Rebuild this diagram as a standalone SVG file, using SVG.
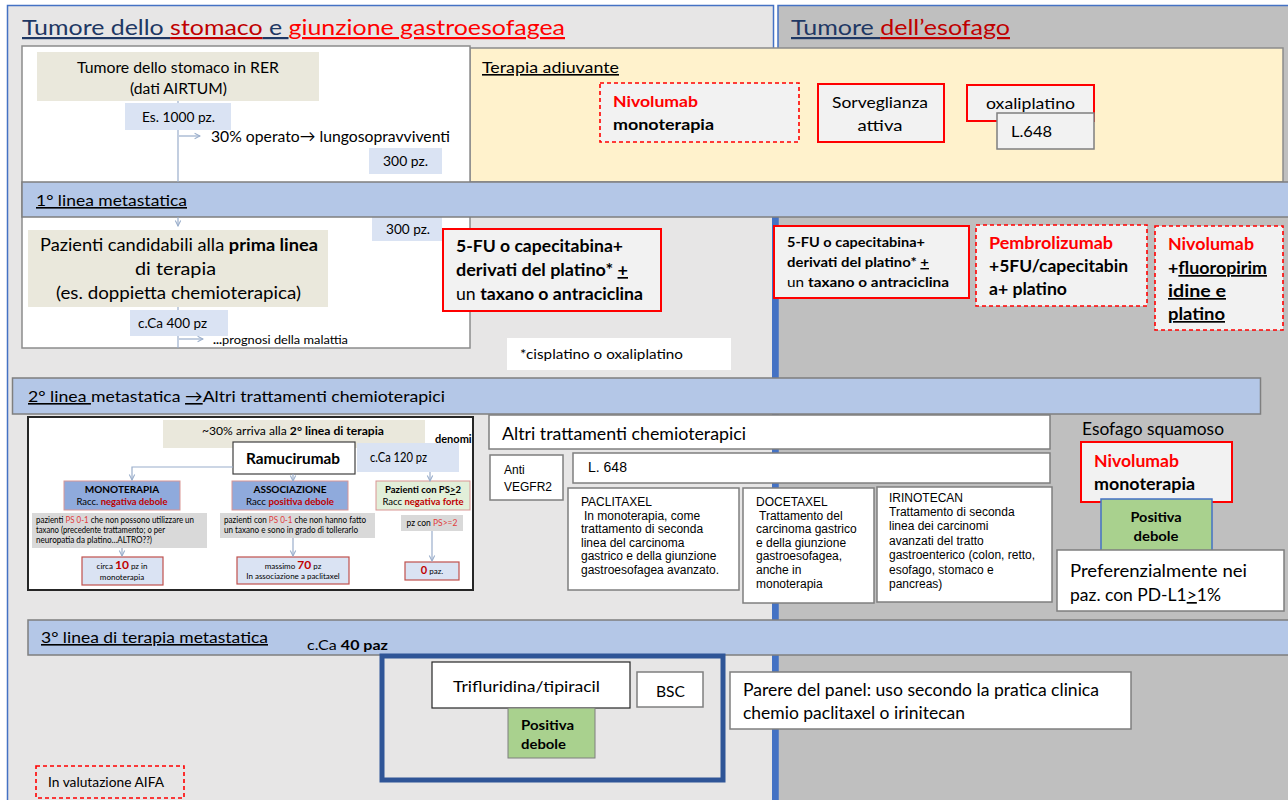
<svg xmlns="http://www.w3.org/2000/svg" width="1288" height="800" viewBox="0 0 1288 800">
<defs>
<style>
text{font-family:Lato,"Liberation Sans",Arial,sans-serif;fill:#000}
.ar{font-family:"Liberation Sans",Arial,sans-serif}
.b{font-weight:bold}
.rd{fill:#ff0000}
.dr{fill:#c00000}
.nv{fill:#1f3864}
.u{text-decoration:underline}
.bgl{fill:#e7e6e6;stroke:#4472c4;stroke-width:1.5}
.bgr{fill:#bfbfbf;stroke:#4472c4;stroke-width:1.5}
.band{fill:#b4c7e7;stroke:#7f7f7f;stroke-width:1.5}
.gbox{fill:#f2f2f2}
.solid{stroke:#ff0000;stroke-width:2}
.dash{stroke:#ff0000;stroke-width:1.6;stroke-dasharray:4 3}
.wbox{fill:#fff;stroke:#7f7f7f;stroke-width:1.5}
.grey{fill:#f2f2f2;stroke:#7f7f7f;stroke-width:1.5}
.beige{fill:#eae8dc}
.pale{fill:#dae3f3}
.green{fill:#a9d18e;stroke:#7f7f7f;stroke-width:1}
.ln{stroke:#9aaecb;stroke-width:1.2;fill:none}
.mono{fill:#8faadc;stroke:#d99594;stroke-width:1}
.lgreen{fill:#e2efd9;stroke:#d99594;stroke-width:1}
.gr{fill:#d9d9d9}
.rbox{fill:#dae3f3;stroke:#c0504d;stroke-width:1.2}
</style>
<marker id="ah" viewBox="0 0 8 8" refX="7" refY="4" markerWidth="6" markerHeight="6" orient="auto">
<path d="M1,1 L7,4 L1,7" fill="none" stroke="#9aaecb" stroke-width="1.2"/>
</marker>
<clipPath id="clip2"><rect x="28" y="417" width="445" height="173"/></clipPath>
</defs>

<!-- page background panels -->
<rect width="1288" height="800" fill="#fff"/>
<g id="panel-stomaco"><rect class="bgl" x="7.5" y="5.5" width="766" height="800"/></g>
<g id="panel-esofago"><rect class="bgr" x="778" y="5.5" width="515" height="800"/></g>
<rect x="772" y="217" width="6" height="583" fill="#4472c4"/>

<!-- headings -->
<g id="titolo-stomaco">
<text x="22" y="35" font-size="22" textLength="543" lengthAdjust="spacingAndGlyphs"><tspan class="nv u">Tumore dello </tspan><tspan class="dr u">stomaco</tspan><tspan class="nv u"> e </tspan><tspan class="rd u">giunzione gastroesofagea</tspan></text>
</g>
<g id="titolo-esofago">
<text x="791" y="35" font-size="22" textLength="219" lengthAdjust="spacingAndGlyphs"><tspan class="nv u">Tumore </tspan><tspan class="dr u">dell’esofago</tspan></text>
</g>

<!-- adjuvant therapy panel -->
<g id="terapia-adiuvante">
<rect x="470" y="48" width="813" height="134" fill="#fff2cc" stroke="#8c8c8c" stroke-width="1.5"/>
<text x="482" y="73" font-size="16" class="u" textLength="137" lengthAdjust="spacingAndGlyphs">Terapia adiuvante</text>
</g>
<g id="adj-nivolumab">
<rect class="gbox dash" x="600" y="83" width="199" height="59"/>
<text x="613" y="107" font-size="16" class="b rd" textLength="85" lengthAdjust="spacingAndGlyphs">Nivolumab</text>
<text x="613" y="130" font-size="16" class="b" textLength="101" lengthAdjust="spacingAndGlyphs">monoterapia</text>
</g>
<g id="adj-sorveglianza">
<rect class="gbox solid" x="818" y="84" width="126" height="58"/>
<text x="880" y="108" font-size="16" text-anchor="middle" textLength="96" lengthAdjust="spacingAndGlyphs">Sorveglianza</text>
<text x="880" y="131" font-size="16" text-anchor="middle" textLength="45" lengthAdjust="spacingAndGlyphs">attiva</text>
</g>
<g id="adj-oxaliplatino">
<rect class="gbox solid" x="967" y="85" width="127" height="36"/>
<text x="986" y="109" font-size="16" textLength="89" lengthAdjust="spacingAndGlyphs">oxaliplatino</text>
</g>
<g id="adj-l648">
<rect class="grey" x="997" y="113" width="97" height="36"/>
<text x="1011" y="137" font-size="16" textLength="41" lengthAdjust="spacingAndGlyphs">L.648</text>
</g>

<!-- regional flow (first inset) -->
<g id="flusso-rer">
<rect x="22" y="46" width="448" height="302" fill="#fff" stroke="#8c8c8c" stroke-width="1.5"/>
<rect class="beige" x="37" y="52" width="282" height="49"/>
<text x="77" y="73" font-size="15.5" textLength="202" lengthAdjust="spacingAndGlyphs" fill="#262626">Tumore dello stomaco in RER</text>
<text x="130" y="94" font-size="15.5" textLength="97" lengthAdjust="spacingAndGlyphs" fill="#262626">(dati AIRTUM)</text>
<rect class="pale" x="125" y="103" width="106" height="27"/>
<text x="142" y="122" font-size="14" textLength="73" lengthAdjust="spacingAndGlyphs" fill="#262626">Es. 1000 pz.</text>
<text x="211" y="142" font-size="16" textLength="239" lengthAdjust="spacingAndGlyphs" fill="#262626">30% operato→ lungosopravviventi</text>
<rect class="pale" x="369" y="148" width="73" height="26"/>
<text x="383" y="166" font-size="14" textLength="45" lengthAdjust="spacingAndGlyphs" fill="#262626">300 pz.</text>
<rect class="pale" x="372" y="217" width="70" height="24"/>
<text x="386" y="234" font-size="14" textLength="44" lengthAdjust="spacingAndGlyphs" fill="#262626">300 pz.</text>
<rect class="beige" x="28" y="230" width="300" height="77"/>
<text x="40" y="251" font-size="17" textLength="278" lengthAdjust="spacingAndGlyphs" fill="#262626">Pazienti candidabili alla <tspan class="b">prima linea</tspan></text>
<text x="135" y="275" font-size="17" textLength="81" lengthAdjust="spacingAndGlyphs" fill="#262626">di terapia</text>
<text x="56" y="299" font-size="17" textLength="245" lengthAdjust="spacingAndGlyphs" fill="#262626">(es. doppietta chemioterapica)</text>
<rect class="pale" x="130" y="310" width="98" height="26"/>
<text x="138" y="328" font-size="14" textLength="69" lengthAdjust="spacingAndGlyphs" fill="#262626">c.Ca 400 pz</text>
<text x="213" y="344" font-size="11" textLength="135" lengthAdjust="spacingAndGlyphs" fill="#262626"><tspan class="b">...</tspan>prognosi della malattia</text>
</g>

<!-- line bands -->
<g id="banda-1">
<rect class="band" x="22" y="182" width="1270" height="35"/>
<text x="36" y="206" font-size="16" class="u" textLength="151" lengthAdjust="spacingAndGlyphs">1° linea metastatica</text>
</g>

<!-- first line: stomach -->
<g id="prima-linea-stomaco">
<rect class="gbox solid" x="443" y="229" width="218" height="82"/>
<text x="456" y="252" font-size="17" class="b" textLength="167" lengthAdjust="spacingAndGlyphs">5-FU o capecitabina+</text>
<text x="456" y="276" font-size="17" class="b" textLength="172" lengthAdjust="spacingAndGlyphs">derivati del platino* <tspan class="u">+</tspan></text>
<text x="456" y="300" font-size="17" textLength="187" lengthAdjust="spacingAndGlyphs">un <tspan class="b">taxano o antraciclina</tspan></text>
</g>
<g id="nota-platino">
<rect x="507" y="338" width="224" height="32" fill="#fff"/>
<text x="520" y="359" font-size="13" textLength="163" lengthAdjust="spacingAndGlyphs">*cisplatino o oxaliplatino</text>
</g>

<!-- first line: oesophagus -->
<g id="prima-linea-esofago">
<rect class="gbox solid" x="774" y="226" width="195" height="72"/>
<text x="787" y="247" font-size="14" class="b" textLength="138" lengthAdjust="spacingAndGlyphs">5-FU o capecitabina+</text>
<text x="787" y="267" font-size="14" class="b" textLength="142" lengthAdjust="spacingAndGlyphs">derivati del platino* <tspan class="u">+</tspan></text>
<text x="787" y="287" font-size="14" textLength="162" lengthAdjust="spacingAndGlyphs">un <tspan class="b">taxano o antraciclina</tspan></text>
</g>
<g id="pembrolizumab">
<rect class="gbox dash" x="976" y="225" width="171" height="81"/>
<text x="989" y="249" font-size="17" class="b rd" textLength="124" lengthAdjust="spacingAndGlyphs">Pembrolizumab</text>
<text x="989" y="272" font-size="17" class="b" textLength="139" lengthAdjust="spacingAndGlyphs">+5FU/capecitabin</text>
<text x="989" y="295" font-size="17" class="b" textLength="78" lengthAdjust="spacingAndGlyphs">a+ platino</text>
</g>
<g id="nivolumab-fluoro">
<rect class="gbox dash" x="1155" y="226" width="128" height="104"/>
<text x="1168" y="250" font-size="17" class="b rd" textLength="86" lengthAdjust="spacingAndGlyphs">Nivolumab</text>
<text x="1168" y="274" font-size="17" class="b" textLength="99" lengthAdjust="spacingAndGlyphs">+<tspan class="u">fluoropirim</tspan></text>
<text x="1168" y="297" font-size="17" class="b u" textLength="58" lengthAdjust="spacingAndGlyphs">idine e</text>
<text x="1168" y="320" font-size="17" class="b u" textLength="57" lengthAdjust="spacingAndGlyphs">platino</text>
</g>

<g id="banda-2">
<rect class="band" x="12.5" y="378" width="1248" height="36"/>
<text x="28" y="402" font-size="16" textLength="417" lengthAdjust="spacingAndGlyphs"><tspan class="u">2° linea </tspan>metastatica <tspan class="u">→</tspan>Altri trattamenti chemioterapici</text>
</g>

<!-- second line ramucirumab flow (inset) -->
<g id="flusso-ramucirumab">
<rect x="28" y="417" width="445" height="173" fill="#fff" stroke="#262626" stroke-width="2"/>
<g clip-path="url(#clip2)">
<rect class="beige" x="163" y="420" width="262" height="28"/>
<text x="202" y="435" font-size="11.5" textLength="182" lengthAdjust="spacingAndGlyphs" fill="#262626">~30% arriva alla <tspan class="b">2° linea di terapia</tspan></text>
<text x="435" y="443" font-size="11" class="b" fill="#c00000">denomi</text>
<rect x="233" y="442" width="122" height="32" fill="#fff" stroke="#404040" stroke-width="1.2"/>
<text x="246" y="464" font-size="16" class="b" textLength="94" lengthAdjust="spacingAndGlyphs" fill="#111">Ramucirumab</text>
<rect class="pale" x="357" y="443" width="102" height="29"/>
<text x="370" y="462" font-size="13.5" textLength="57" lengthAdjust="spacingAndGlyphs" fill="#262626">c.Ca 120 pz</text>

<rect class="mono" x="64" y="481" width="116" height="29"/>
<text x="122" y="493" font-size="10" class="b" text-anchor="middle" fill="#1f2d4d">MONOTERAPIA</text>
<text x="122" y="505" font-size="10" text-anchor="middle" textLength="91" lengthAdjust="spacingAndGlyphs" fill="#2f3e66">Racc. <tspan class="b" fill="#c00000">negativa debole</tspan></text>
<rect class="gr" x="32" y="513" width="175" height="35"/>
<text x="36" y="523" font-size="8.5" textLength="158" lengthAdjust="spacingAndGlyphs" fill="#404040">pazienti <tspan fill="#e03c3c">PS 0-1</tspan> che non possono utilizzare un</text>
<text x="36" y="533" font-size="8.5" textLength="129" lengthAdjust="spacingAndGlyphs" fill="#404040">taxano (precedente trattamento; o per</text>
<text x="36" y="543" font-size="8.5" textLength="116" lengthAdjust="spacingAndGlyphs" fill="#404040">neuropatia da platino...ALTRO??)</text>
<rect class="rbox" x="82" y="557" width="81" height="28"/>
<text x="122" y="569" font-size="8" text-anchor="middle" fill="#404040">circa <tspan class="b" font-size="12" fill="#c00000">10</tspan> pz in</text>
<text x="122" y="580" font-size="8" text-anchor="middle" fill="#404040">monoterapia</text>

<rect class="mono" x="232" y="481" width="116" height="29"/>
<text x="290" y="493" font-size="10" class="b" text-anchor="middle" fill="#1f2d4d">ASSOCIAZIONE</text>
<text x="290" y="505" font-size="10" text-anchor="middle" textLength="88" lengthAdjust="spacingAndGlyphs" fill="#2f3e66">Racc <tspan class="b" fill="#c00000">positiva debole</tspan></text>
<rect class="gr" x="220" y="513" width="155" height="25"/>
<text x="224" y="523" font-size="8.5" textLength="142" lengthAdjust="spacingAndGlyphs" fill="#404040">pazienti con <tspan fill="#e03c3c">PS 0-1</tspan> che non hanno fatto</text>
<text x="224" y="533" font-size="8.5" textLength="134" lengthAdjust="spacingAndGlyphs" fill="#404040">un taxano e sono in grado di tollerarlo</text>
<rect class="rbox" x="237" y="557" width="112" height="27"/>
<text x="293" y="569" font-size="8" text-anchor="middle" fill="#404040">massimo <tspan class="b" font-size="12" fill="#c00000">70</tspan> pz</text>
<text x="293" y="579" font-size="8" text-anchor="middle" fill="#404040">In associazione a paclitaxel</text>

<rect class="lgreen" x="376" y="481" width="94" height="29"/>
<text x="423" y="493" font-size="9.5" class="b" text-anchor="middle" fill="#262626">Pazienti con PS<tspan class="u">&gt;</tspan>2</text>
<text x="423" y="505" font-size="9.5" text-anchor="middle" fill="#404040">Racc <tspan class="b" fill="#c00000">negativa forte</tspan></text>
<rect class="gr" x="401" y="515" width="62" height="16"/>
<text x="432" y="526" font-size="8.5" text-anchor="middle" fill="#404040">pz con <tspan fill="#e03c3c">PS&gt;=2</tspan></text>
<rect class="rbox" x="405" y="562" width="54" height="18"/>
<text x="432" y="574" font-size="8" text-anchor="middle" fill="#404040"><tspan class="b" font-size="11" fill="#c00000">0</tspan> paz.</text>
</g>
</g>

<!-- second line chemotherapy options -->
<g id="altri-trattamenti">
<rect class="wbox" x="489" y="415" width="561" height="34"/>
<text x="502" y="440" font-size="17" textLength="244" lengthAdjust="spacingAndGlyphs" fill="#262626">Altri trattamenti chemioterapici</text>
</g>
<g id="anti-vegfr2">
<rect class="wbox" x="490" y="455" width="73" height="45"/>
<text x="504" y="474" font-size="12" class="ar">Anti</text>
<text x="504" y="491" font-size="12" class="ar">VEGFR2</text>
</g>
<g id="l648-seconda">
<rect class="wbox" x="573" y="453" width="477" height="30"/>
<text x="588" y="472" font-size="14" class="ar" fill="#262626">L. 648</text>
</g>
<g id="paclitaxel">
<rect class="wbox" x="568" y="488" width="171" height="102"/>
<text x="581" y="506" font-size="12" class="ar" fill="#262626">PACLITAXEL</text>
<text x="584" y="520" font-size="12" class="ar" fill="#262626">In monoterapia, come</text>
<text x="581" y="533" font-size="12" class="ar" fill="#262626">trattamento di seconda</text>
<text x="581" y="547" font-size="12" class="ar" fill="#262626">linea del carcinoma</text>
<text x="581" y="560" font-size="12" class="ar" fill="#262626">gastrico e della giunzione</text>
<text x="581" y="574" font-size="12" class="ar" fill="#262626">gastroesofagea avanzato.</text>
</g>
<g id="docetaxel">
<rect class="wbox" x="743" y="488" width="131" height="115"/>
<text x="756" y="506" font-size="12" class="ar" fill="#262626">DOCETAXEL</text>
<text x="759" y="520" font-size="12" class="ar" fill="#262626">Trattamento del</text>
<text x="756" y="533" font-size="12" class="ar" fill="#262626">carcinoma gastrico</text>
<text x="756" y="547" font-size="12" class="ar" fill="#262626">e della giunzione</text>
<text x="756" y="560" font-size="12" class="ar" fill="#262626">gastroesofagea,</text>
<text x="756" y="574" font-size="12" class="ar" fill="#262626">anche in</text>
<text x="756" y="588" font-size="12" class="ar" fill="#262626">monoterapia</text>
</g>
<g id="irinotecan">
<rect class="wbox" x="877" y="487" width="175" height="115"/>
<text x="889" y="502" font-size="12" class="ar" fill="#262626">IRINOTECAN</text>
<text x="889" y="516" font-size="12" class="ar" fill="#262626">Trattamento di seconda</text>
<text x="889" y="530" font-size="12" class="ar" fill="#262626">linea dei carcinomi</text>
<text x="889" y="545" font-size="12" class="ar" fill="#262626">avanzati del tratto</text>
<text x="889" y="559" font-size="12" class="ar" fill="#262626">gastroenterico (colon, retto,</text>
<text x="889" y="574" font-size="12" class="ar" fill="#262626">esofago, stomaco e</text>
<text x="889" y="588" font-size="12" class="ar" fill="#262626">pancreas)</text>
</g>

<!-- second line: squamous oesophagus -->
<g id="esofago-squamoso">
<text x="1082" y="435" font-size="17" textLength="142" lengthAdjust="spacingAndGlyphs" fill="#262626">Esofago squamoso</text>
<rect class="gbox solid" x="1081" y="442" width="151" height="60"/>
<text x="1094" y="467" font-size="17" class="b rd" textLength="85" lengthAdjust="spacingAndGlyphs">Nivolumab</text>
<text x="1094" y="490" font-size="17" class="b" textLength="101" lengthAdjust="spacingAndGlyphs">monoterapia</text>
</g>
<g id="positiva-debole-2">
<rect x="1101" y="499" width="111" height="55" fill="#a9d18e" stroke="#4472c4" stroke-width="1.5"/>
<text x="1156" y="522" font-size="13.5" class="b" text-anchor="middle" textLength="51" lengthAdjust="spacingAndGlyphs">Positiva</text>
<text x="1156" y="541" font-size="13.5" class="b" text-anchor="middle" textLength="45" lengthAdjust="spacingAndGlyphs">debole</text>
</g>
<g id="pd-l1">
<rect class="wbox" x="1057" y="550" width="227" height="61"/>
<text x="1070" y="577" font-size="17" textLength="177" lengthAdjust="spacingAndGlyphs" fill="#111">Preferenzialmente nei</text>
<text x="1070" y="601" font-size="17" textLength="151" lengthAdjust="spacingAndGlyphs" fill="#111">paz. con PD-L1<tspan class="u">&gt;</tspan>1%</text>
</g>

<g id="banda-3">
<rect class="band" x="28" y="620" width="1264" height="35"/>
<text x="41" y="643" font-size="16" class="u" textLength="227" lengthAdjust="spacingAndGlyphs">3° linea di terapia metastatica</text>
<text x="307" y="650" font-size="14" textLength="81" lengthAdjust="spacingAndGlyphs">c.Ca <tspan class="b">40 paz</tspan></text>
</g>

<!-- third line -->
<g id="terza-linea">
<rect x="382" y="656" width="341" height="124" fill="none" stroke="#2f5597" stroke-width="5"/>
</g>
<g id="trifluridina">
<rect x="432" y="662" width="198" height="46" fill="#fff" stroke="#262626" stroke-width="1.2"/>
<text x="453" y="692" font-size="16" textLength="147" lengthAdjust="spacingAndGlyphs">Trifluridina/tipiracil</text>
</g>
<g id="bsc">
<rect class="wbox" x="637" y="672" width="66" height="35"/>
<text x="656" y="697" font-size="16" textLength="29" lengthAdjust="spacingAndGlyphs">BSC</text>
</g>
<g id="positiva-debole-3">
<rect class="green" x="508" y="708" width="87" height="50"/>
<text x="521" y="730" font-size="13.5" class="b" textLength="53" lengthAdjust="spacingAndGlyphs">Positiva</text>
<text x="521" y="749" font-size="13.5" class="b" textLength="45" lengthAdjust="spacingAndGlyphs">debole</text>
</g>
<g id="parere-panel">
<rect class="wbox" x="730" y="672" width="401" height="57"/>
<text x="743" y="696" font-size="16.5" textLength="356" lengthAdjust="spacingAndGlyphs" fill="#111">Parere del panel: uso secondo la pratica clinica</text>
<text x="743" y="719" font-size="16.5" textLength="222" lengthAdjust="spacingAndGlyphs" fill="#111">chemio paclitaxel o irinitecan</text>
</g>

<!-- legend -->
<g id="legenda-aifa">
<rect x="36" y="766" width="148" height="32" fill="#e7e6e6" stroke="#ff0000" stroke-width="1.6" stroke-dasharray="4 3"/>
<text x="48" y="787" font-size="13" textLength="116" lengthAdjust="spacingAndGlyphs">In valutazione AIFA</text>
</g>

<!-- connectors -->
<g id="connettori">
<line class="ln" x1="178" y1="101" x2="178" y2="103"/>
<line class="ln" x1="178" y1="130" x2="178" y2="182"/>
<line class="ln" x1="179" y1="136" x2="200" y2="136" marker-end="url(#ah)"/>
<line class="ln" x1="178" y1="217" x2="178" y2="226" marker-end="url(#ah)"/>
<line class="ln" x1="178" y1="307" x2="178" y2="310"/>
<line class="ln" x1="178" y1="336" x2="178" y2="348"/>
<line class="ln" x1="179" y1="339" x2="203" y2="339" marker-end="url(#ah)"/>
<path class="ln" d="M233,467 H132 V480" marker-end="url(#ah)"/>
<line class="ln" x1="293" y1="474" x2="293" y2="481" marker-end="url(#ah)"/>
<line class="ln" x1="430" y1="472" x2="430" y2="481" marker-end="url(#ah)"/>
<line class="ln" x1="122" y1="548" x2="122" y2="556" marker-end="url(#ah)"/>
<line class="ln" x1="293" y1="538" x2="293" y2="556" marker-end="url(#ah)"/>
<line class="ln" x1="432" y1="531" x2="432" y2="561" marker-end="url(#ah)"/>
</g>
</svg>
